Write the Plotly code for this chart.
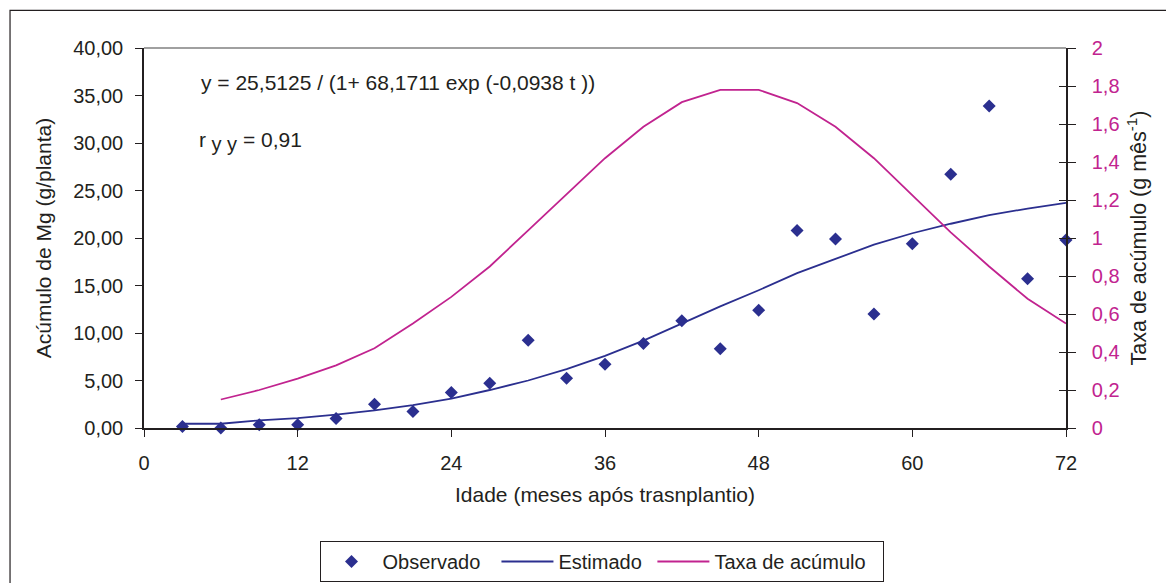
import plotly.graph_objects as go

# ---- data ----
meses = [3, 6, 9, 12, 15, 18, 21, 24, 27, 30, 33, 36, 39, 42, 45, 48, 51, 54, 57, 60, 63, 66, 69, 72]
observado = [0.15, 0.0, 0.35, 0.35, 1.0, 2.5, 1.75, 3.75, 4.7, 9.25, 5.25, 6.7,
             8.9, 11.3, 8.35, 12.4, 20.8, 19.9, 12.0, 19.4, 26.7, 33.9, 15.7, 19.8]
estimado = [0.45, 0.45, 0.8, 1.05, 1.4, 1.85, 2.4, 3.1, 4.0, 5.0, 6.2, 7.6,
            9.2, 11.0, 12.8, 14.5, 16.3, 17.8, 19.3, 20.5, 21.5, 22.4, 23.1, 23.7]
meses_taxa = [6, 9, 12, 15, 18, 21, 24, 27, 30, 33, 36, 39, 42, 45, 48, 51, 54, 57, 60, 63, 66, 69, 72]
taxa = [0.15, 0.20, 0.26, 0.33, 0.42, 0.55, 0.69, 0.85, 1.04, 1.23, 1.42, 1.585, 1.715,
        1.78, 1.78, 1.71, 1.585, 1.42, 1.225, 1.03, 0.85, 0.68, 0.55]

x_ticks = [0, 12, 24, 36, 48, 60, 72]
y_ticks = [0, 5, 10, 15, 20, 25, 30, 35, 40]
y_ticktext = ["0,00", "5,00", "10,00", "15,00", "20,00", "25,00", "30,00", "35,00", "40,00"]
y2_ticks = [0, 0.2, 0.4, 0.6, 0.8, 1.0, 1.2, 1.4, 1.6, 1.8, 2.0]
y2_ticktext = ["0", "0,2", "0,4", "0,6", "0,8", "1", "1,2", "1,4", "1,6", "1,8", "2"]

BLUE = "#2B2F8F"
MAG = "#C1238F"
FONT = "Liberation Sans, Arial, sans-serif"
NB = "\u00a0"

fig = go.Figure()
fig.add_trace(go.Scatter(x=meses, y=observado, mode="markers", name="Observado" + NB * 2,
                         marker=dict(symbol="diamond", size=10, color=BLUE),
                         cliponaxis=False))
fig.add_trace(go.Scatter(x=meses, y=estimado, mode="lines", name="Estimado" + NB,
                         line=dict(color=BLUE, width=1.8)))
fig.add_trace(go.Scatter(x=meses_taxa, y=taxa, mode="lines", name="Taxa de acúmulo" + NB * 2,
                         line=dict(color=MAG, width=1.8), yaxis="y2"))

fig.update_layout(
    width=1166, height=583,
    margin=dict(l=144, r=100, t=48, b=155),
    paper_bgcolor="white", plot_bgcolor="white",
    font=dict(family=FONT, size=20, color="#231F20"),
    showlegend=True,
    legend=dict(orientation="h", x=601.5 / 1166, xanchor="center", xref="container",
                y=(583 - 541) / 583, yanchor="top", yref="container",
                bordercolor="#231F20", borderwidth=1, font=dict(size=20),
                itemwidth=52, tracegroupgap=0),
    xaxis=dict(range=[0, 72], tickvals=x_ticks, ticktext=[str(v) for v in x_ticks],
               showgrid=False, zeroline=False, showline=True, linecolor="#231F20", linewidth=2,
               ticks="outside", ticklen=7, tickcolor="#231F20", tickfont=dict(size=20),
               ticklabelstandoff=9, automargin=False,
               title=dict(text="Idade (meses após trasnplantio)", font=dict(size=21), standoff=14)),
    yaxis=dict(range=[0, 40], tickvals=y_ticks, ticktext=y_ticktext,
               showgrid=False, zeroline=False, showline=True, linecolor="#231F20", linewidth=1.5,
               ticks="outside", ticklen=7, tickcolor="#231F20", tickfont=dict(size=20),
               ticklabelstandoff=8, automargin=False,
               title=dict(text="Acúmulo de Mg (g/planta)", font=dict(size=21), standoff=16)),
    yaxis2=dict(range=[0, 2], tickvals=y2_ticks, ticktext=y2_ticktext, overlaying="y", side="right",
                showgrid=False, zeroline=False, showline=True, linecolor="#231F20", linewidth=1.5,
                ticks="outside", ticklen=8, tickcolor="#231F20", tickfont=dict(size=20, color=MAG),
                ticklabelstandoff=12, automargin=False,
                title=dict(text="Taxa de acúmulo (g mês<sup>-1</sup>)", font=dict(size=21.5), standoff=12)),
    yaxis3=dict(range=[0, 2], tickvals=y2_ticks, overlaying="y", side="right",
                showgrid=False, zeroline=False, showline=False, showticklabels=False,
                ticks="inside", ticklen=7, tickcolor="#231F20", automargin=False),
)

# invisible trace to activate the inner tick axis
fig.add_trace(go.Scatter(x=[None], y=[None], yaxis="y3", showlegend=False, hoverinfo="skip"))

# top border of plot area (gray) and outer frame
fig.add_shape(type="line", xref="paper", yref="paper", x0=0, x1=1, y0=1, y1=1,
              line=dict(color="#808080", width=1.5))
fig.add_shape(type="rect", xref="paper", yref="paper", x0=-0.1453, x1=1.12, y0=-0.5, y1=1.099,
              line=dict(color="#231F20", width=1.2), layer="below")

fig.add_annotation(text="y = 25,5125 / (1+ 68,1711 exp (-0,0938 t ))", xref="paper", yref="paper",
                   x=(199 - 144) / 922, y=(428.5 - 82) / 380.8, xanchor="left", yanchor="middle",
                   showarrow=False, font=dict(size=21))
fig.add_annotation(text="r<sub><span style='font-size:20px'> y y</span></sub> = 0,91",
                   xref="paper", yref="paper",
                   x=(197 - 144) / 922, y=(428.5 - 141) / 380.8, xanchor="left", yanchor="middle",
                   showarrow=False, font=dict(size=21))

fig.write_html("out.html")
